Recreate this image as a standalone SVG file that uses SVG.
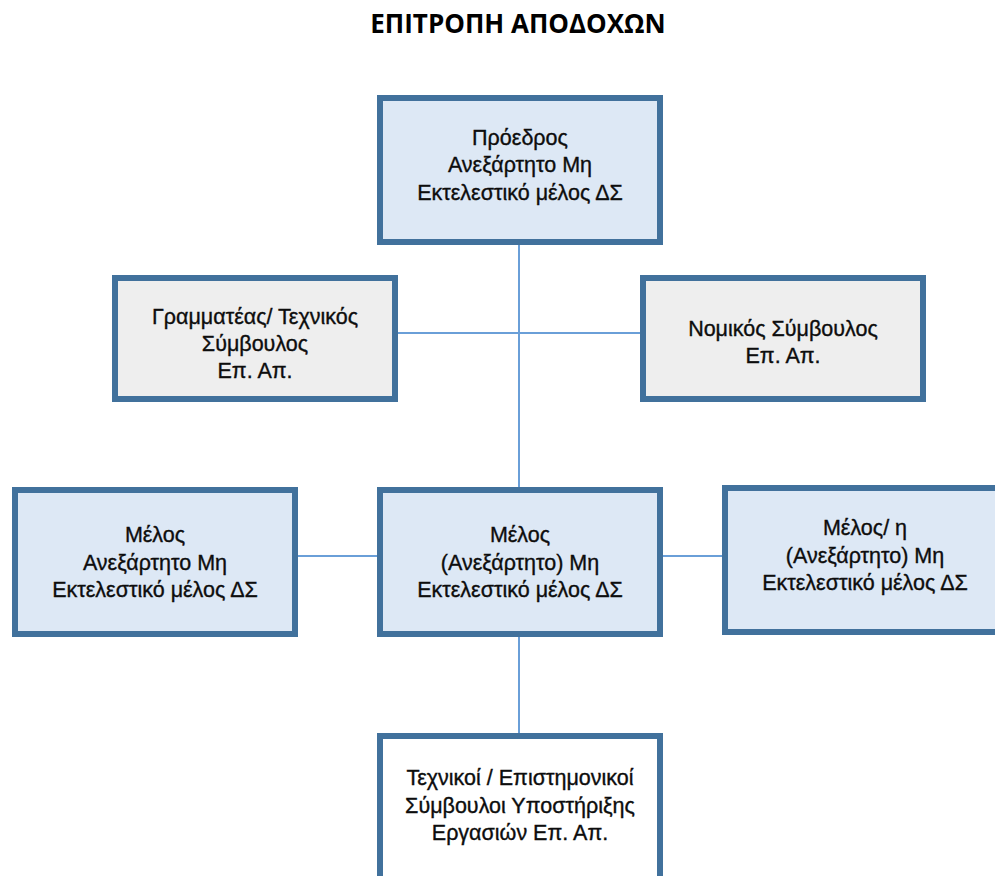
<svg xmlns="http://www.w3.org/2000/svg" width="995" height="876" viewBox="0 0 995 876">
<style>
.box{stroke:#41719c;stroke-width:6}
.blue{fill:#dde8f5}
.gray{fill:#eeeeee}
.white{fill:#ffffff}
.conn{stroke:#6a9fd8;stroke-width:2;fill:none}
text{font-family:"Liberation Sans",Arial,sans-serif;font-size:21.5px;fill:#0d0d0d;stroke:#0d0d0d;stroke-width:0.35;text-anchor:middle}
.title{font-family:"Open Sans","Liberation Sans",sans-serif;font-weight:bold;font-size:26px;stroke:none;fill:#000}
</style>
<rect width="995" height="876" fill="#ffffff"/>
<text class="title" x="518" y="33">ΕΠΙΤΡΟΠΗ ΑΠΟΔΟΧΩΝ</text>
<g id="connectors">
<line class="conn" x1="519" y1="245" x2="519" y2="487"/>
<line class="conn" x1="398" y1="333" x2="640" y2="333"/>
<line class="conn" x1="298" y1="556" x2="377" y2="556"/>
<line class="conn" x1="663" y1="556" x2="722" y2="556"/>
<line class="conn" x1="519" y1="636" x2="519" y2="733"/>
</g>
<g id="chair">
<rect class="box blue" x="380" y="98" width="280" height="144"/>
<text x="520" y="145">Πρόεδρος</text>
<text x="520" y="172">Ανεξάρτητο Μη</text>
<text x="520" y="200">Εκτελεστικό μέλος ΔΣ</text>
</g>
<g id="secretary">
<rect class="box gray" x="115" y="278" width="280" height="121"/>
<text x="255" y="324">Γραμματέας/ Τεχνικός</text>
<text x="255" y="351">Σύμβουλος</text>
<text x="255" y="378">Επ. Απ.</text>
</g>
<g id="legal">
<rect class="box gray" x="643" y="278" width="280" height="121"/>
<text x="783" y="336">Νομικός Σύμβουλος</text>
<text x="783" y="363">Επ. Απ.</text>
</g>
<g id="member-left">
<rect class="box blue" x="15" y="490" width="280" height="144"/>
<text x="155" y="542">Μέλος</text>
<text x="155" y="570">Ανεξάρτητο Μη</text>
<text x="155" y="597">Εκτελεστικό μέλος ΔΣ</text>
</g>
<g id="member-center">
<rect class="box blue" x="380" y="490" width="280" height="144"/>
<text x="520" y="542">Μέλος</text>
<text x="520" y="570">(Ανεξάρτητο) Μη</text>
<text x="520" y="597">Εκτελεστικό μέλος ΔΣ</text>
</g>
<g id="member-right">
<rect class="box blue" x="725" y="488" width="280" height="144"/>
<text x="865" y="535">Μέλος/ η</text>
<text x="865" y="563">(Ανεξάρτητο) Μη</text>
<text x="865" y="590">Εκτελεστικό μέλος ΔΣ</text>
</g>
<g id="advisors">
<rect class="box white" x="380" y="736" width="280" height="150"/>
<text x="520" y="785">Τεχνικοί / Επιστημονικοί</text>
<text x="520" y="813">Σύμβουλοι Υποστήριξης</text>
<text x="520" y="840">Εργασιών Επ. Απ.</text>
</g>
</svg>
